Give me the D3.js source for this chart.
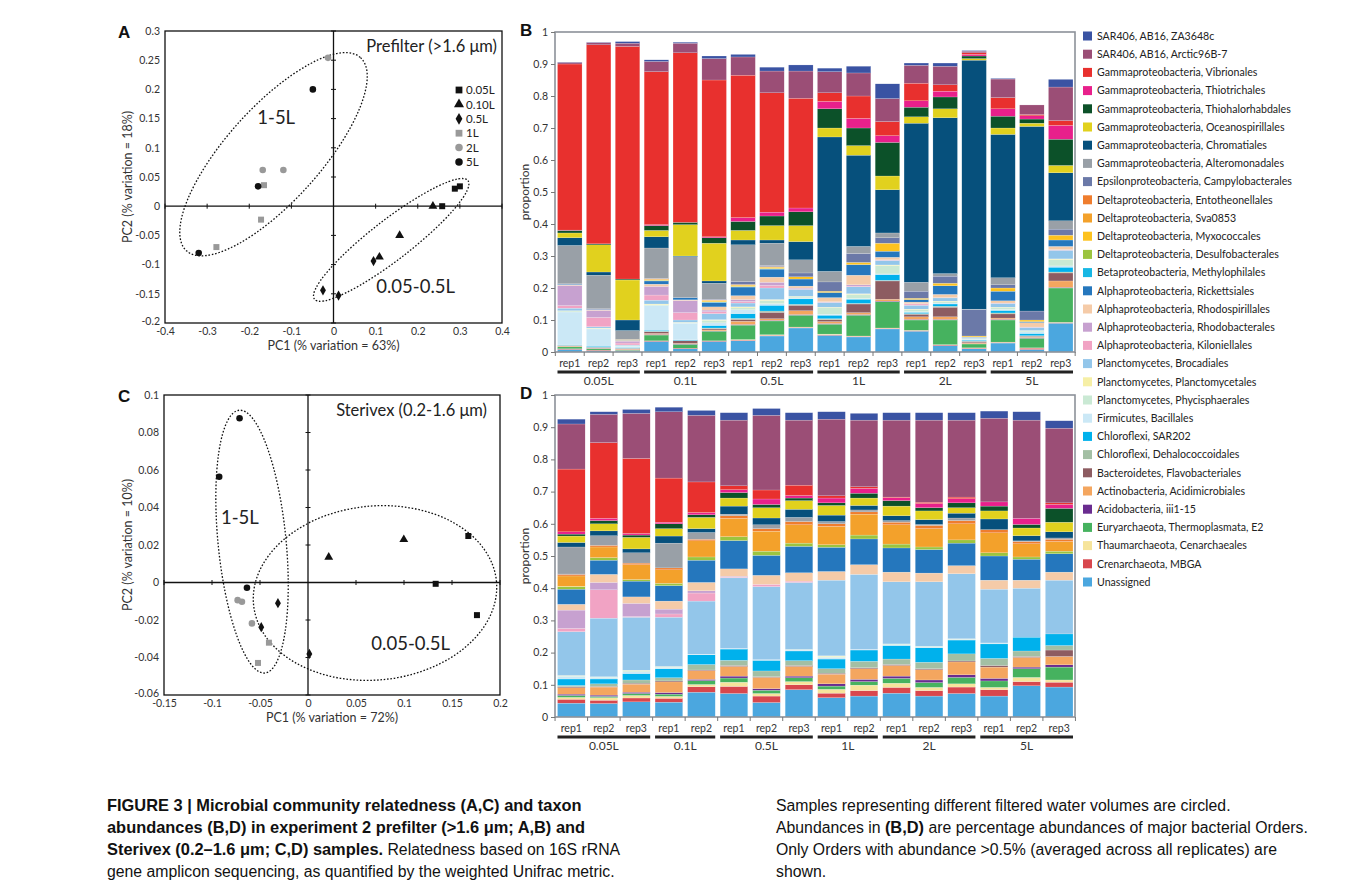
<!DOCTYPE html>
<html>
<head>
<meta charset="utf-8" />
<script src="https://d3js.org/d3.v7.min.js"></script>
<title>Figure 3</title>
<style>
  body { margin: 0; background: #fff; }
  svg text { font-family: Lato, "Open Sans", sans-serif; fill: #222; }
  svg .cap { font-family: "Liberation Sans", Arial, sans-serif; fill: #111; }
</style>
</head>
<body>
<svg id="fig" width="1357" height="889"></svg>
<script>
// ---------- data ----------
// taxa in stacking order (bottom of bar first); legend shows them reversed
var taxa = [
  "Unassigned", "Crenarchaeota, MBGA", "Thaumarchaeota, Cenarchaeales",
  "Euryarchaeota, Thermoplasmata, E2", "Acidobacteria, iii1-15",
  "Actinobacteria, Acidimicrobiales", "Bacteroidetes, Flavobacteriales",
  "Chloroflexi, Dehalococcoidales", "Chloroflexi, SAR202", "Firmicutes, Bacillales",
  "Planctomycetes, Phycisphaerales", "Planctomycetes, Planctomycetales",
  "Planctomycetes, Brocadiales", "Alphaproteobacteria, Kiloniellales",
  "Alphaproteobacteria, Rhodobacterales", "Alphaproteobacteria, Rhodospirillales",
  "Alphaproteobacteria, Rickettsiales", "Betaproteobacteria, Methylophilales",
  "Deltaproteobacteria, Desulfobacterales", "Deltaproteobacteria, Myxococcales",
  "Deltaproteobacteria, Sva0853", "Deltaproteobacteria, Entotheonellales",
  "Epsilonproteobacteria, Campylobacterales", "Gammaproteobacteria, Alteromonadales",
  "Gammaproteobacteria, Chromatiales", "Gammaproteobacteria, Oceanospirillales",
  "Gammaproteobacteria, Thiohalorhabdales", "Gammaproteobacteria, Thiotrichales",
  "Gammaproteobacteria, Vibrionales", "SAR406, AB16, Arctic96B-7", "SAR406, AB16, ZA3648c"
];
var taxaColors = [
  "#4ba7df", "#d8474d", "#f6e49b", "#46b25f", "#6a2c8f", "#f4a65f", "#8d5c61",
  "#a3bfa4", "#00b1ec", "#cbe8f6", "#cae9d4", "#f6efa6", "#93c6ea", "#f1a3c4",
  "#c7a1d0", "#f5cba8", "#2577bd", "#17b7e4", "#9cc43f", "#fdc21f", "#f3a12b",
  "#ef7d2e", "#6b79a8", "#99a0a7", "#06507c", "#e1d11e", "#0c5129", "#e8208b",
  "#e8302e", "#9b4e76", "#3a53a3"
];

var volumes = ["0.05L", "0.1L", "0.5L", "1L", "2L", "5L"];
var repsPrefilter = [3, 3, 3, 3, 3, 3];
var repsSterivex = [3, 2, 3, 2, 3, 3];

// panel B: one row per sample, values in taxa order
var prefilterShares = [
  [0.008,0.002,0,0.006,0.001,0.002,0.001,0.001,0.001,0.103,0.003,0.001,0.008,0.008,0.063,0.002,0.002,0,0,0,0,0,0.001,0.120,0.024,0.015,0.008,0.001,0.519,0.005,0.001],
  [0.004,0.002,0,0.004,0.001,0.001,0.002,0.001,0.003,0.054,0.002,0.001,0.004,0.029,0.022,0.002,0.001,0,0,0,0,0,0.002,0.105,0.010,0.085,0.003,0,0.622,0.007,0.001],
  [0.003,0.001,0,0.002,0.001,0.002,0.002,0.001,0.002,0.004,0.001,0.001,0.002,0.006,0.006,0.002,0.001,0,0,0.002,0,0,0.001,0.027,0.033,0.125,0.003,0,0.727,0.010,0.005],
  [0.033,0.002,0,0.018,0.002,0.003,0.005,0.002,0.003,0.077,0.003,0.002,0.012,0.016,0.027,0.007,0.010,0.001,0.001,0.002,0.002,0.001,0.001,0.095,0.035,0.020,0.015,0.003,0.478,0.032,0.005],
  [0.010,0.002,0,0.012,0.001,0.002,0.008,0.001,0.002,0.052,0.002,0.001,0.007,0.023,0.038,0.002,0.007,0,0,0,0,0,0,0.128,0.002,0.098,0.007,0,0.530,0.030,0.003],
  [0.033,0.002,0,0.030,0.001,0.003,0.004,0.002,0.008,0.008,0.008,0.002,0.019,0.006,0.005,0.010,0.014,0.001,0.001,0.004,0.001,0.001,0.002,0.050,0.007,0.118,0.017,0.003,0.490,0.067,0.008],
  [0.035,0.002,0.002,0.045,0.002,0.010,0.006,0.003,0.015,0.012,0.006,0.003,0.012,0.005,0.006,0.012,0.027,0.001,0.001,0.004,0.001,0.001,0.009,0.115,0.015,0.030,0.028,0.012,0.445,0.057,0.008],
  [0.050,0.002,0.002,0.043,0.002,0.005,0.020,0.004,0.018,0.005,0.010,0.003,0.036,0.008,0.010,0.016,0.025,0.001,0.001,0.004,0.001,0.001,0.003,0.070,0.010,0.045,0.030,0.012,0.373,0.068,0.012],
  [0.075,0.002,0.001,0.037,0.002,0.012,0.017,0.003,0.017,0.003,0.003,0.002,0.022,0.002,0.002,0.006,0.022,0,0,0.007,0,0,0.012,0.041,0.057,0.050,0.043,0.012,0.343,0.085,0.019],
  [0.052,0.002,0.002,0.031,0.002,0.006,0.006,0.003,0.011,0.003,0.020,0.002,0.015,0.001,0.001,0.013,0.016,0,0,0.004,0,0,0.029,0.033,0.420,0.028,0.060,0.023,0.027,0.066,0.011],
  [0.047,0.002,0.001,0.065,0.002,0.006,0.027,0.002,0.013,0.002,0.013,0.002,0.022,0.002,0.004,0.030,0.033,0,0,0.007,0,0,0.028,0.022,0.285,0.030,0.055,0.030,0.070,0.072,0.021],
  [0.072,0.002,0.001,0.082,0.002,0.006,0.057,0.002,0.018,0.002,0.026,0.002,0.014,0.001,0.001,0.008,0.019,0,0,0.025,0,0,0.017,0.015,0.135,0.043,0.105,0.021,0.044,0.072,0.046],
  [0.065,0.002,0.001,0.032,0.002,0.008,0.008,0.002,0.004,0.002,0.006,0.002,0.012,0.004,0.001,0.005,0.008,0,0,0.004,0,0,0.022,0.028,0.497,0.020,0.030,0.020,0.055,0.056,0.007],
  [0.020,0.002,0.001,0.077,0.002,0.008,0.030,0.003,0.007,0.003,0.004,0.002,0.010,0,0.001,0.010,0.027,0,0,0.008,0,0,0.022,0.008,0.487,0.028,0.037,0.018,0.020,0.058,0.010],
  [0.010,0.002,0.001,0.012,0.001,0.003,0.004,0.001,0.003,0.003,0.001,0.001,0.003,0,0,0.001,0.001,0,0,0.003,0,0,0.083,0.001,0.778,0.005,0.008,0.005,0.005,0.005,0.002],
  [0.028,0.002,0.001,0.069,0.002,0.004,0.013,0.003,0.008,0.003,0.005,0.002,0.012,0.001,0,0.007,0.030,0,0,0.010,0,0,0.010,0.022,0.448,0.020,0.037,0.023,0.035,0.058,0.002],
  [0.008,0.004,0.001,0.030,0.001,0.002,0.003,0.002,0.007,0.005,0.003,0.001,0.010,0.001,0,0.014,0.003,0,0,0.005,0,0,0.028,0,0.577,0.010,0.013,0.010,0.004,0.030,0],
  [0.090,0.002,0.001,0.107,0.002,0.020,0.025,0.003,0.015,0.004,0.020,0.002,0.027,0.001,0.001,0.010,0.020,0,0,0.015,0,0,0.019,0.026,0.150,0.023,0.082,0.043,0.015,0.105,0.024]
];

// panel D
var sterivexShares = [
  [0.043,0.012,0.006,0.006,0.004,0.020,0.003,0.004,0.020,0.008,0.002,0.001,0.136,0.010,0.057,0.018,0.047,0,0.008,0.001,0.032,0.005,0.001,0.084,0.014,0.020,0.006,0.007,0.195,0.140,0.015],
  [0.042,0.010,0.008,0.004,0.004,0.025,0.002,0.008,0.015,0.005,0.002,0,0.182,0.088,0.023,0.025,0.044,0,0.008,0,0.033,0.005,0,0.030,0.015,0.022,0.010,0.007,0.235,0.088,0.008],
  [0.047,0.012,0.008,0.006,0.004,0.025,0.003,0.010,0.020,0.005,0.003,0.002,0.165,0.002,0.041,0.020,0.049,0,0.005,0,0.046,0.005,0,0.032,0.012,0.036,0.007,0.005,0.233,0.140,0.012],
  [0.046,0.012,0.006,0.007,0.005,0.033,0.003,0.010,0.028,0.004,0.002,0.001,0.153,0.010,0.015,0.025,0.048,0,0.007,0,0.042,0.006,0,0.077,0.022,0.023,0.015,0.005,0.137,0.206,0.014],
  [0.077,0.017,0.007,0.012,0.004,0.027,0.002,0.017,0.030,0.002,0,0,0.165,0.025,0.007,0.026,0.069,0,0.010,0,0.050,0.005,0,0.021,0.012,0.035,0.008,0.007,0.095,0.207,0.015],
  [0.073,0.022,0.013,0.013,0.006,0.030,0.003,0.016,0.035,0.002,0,0,0.219,0.002,0.003,0.023,0.088,0,0.012,0,0.057,0.008,0,0.005,0.025,0.025,0.017,0.009,0.012,0.204,0.023],
  [0.045,0.020,0.008,0.010,0.005,0.035,0.002,0.018,0.033,0.002,0,0,0.227,0.007,0,0.028,0.062,0,0.013,0,0.062,0.008,0,0.012,0.021,0.032,0.010,0.017,0.028,0.232,0.021],
  [0.085,0.015,0.010,0.012,0.005,0.030,0.003,0.015,0.030,0.003,0.002,0,0.208,0.004,0,0.026,0.082,0,0.010,0,0.057,0.010,0,0.013,0.025,0.027,0.008,0.008,0.032,0.202,0.023],
  [0.060,0.014,0.012,0.010,0.007,0.030,0.003,0.014,0.030,0.005,0.003,0.002,0.235,0,0,0.027,0.075,0,0.008,0,0.057,0.008,0,0.007,0.020,0.030,0.008,0.015,0.007,0.238,0.023],
  [0.065,0.017,0.017,0.011,0.007,0.033,0.003,0.020,0.035,0.002,0,0,0.233,0,0,0.030,0.080,0,0.012,0,0.065,0.007,0,0.006,0.014,0.023,0.015,0.015,0.005,0.207,0.021],
  [0.074,0.018,0.013,0.015,0.007,0.033,0.003,0.017,0.042,0.003,0.002,0,0.193,0,0,0.030,0.075,0,0.012,0,0.060,0.008,0,0.005,0.015,0.030,0.017,0.009,0.002,0.239,0.023],
  [0.065,0.017,0.010,0.015,0.008,0.032,0.003,0.020,0.045,0.003,0.002,0,0.200,0,0,0.027,0.073,0,0.008,0,0.057,0.010,0,0.003,0.015,0.027,0.010,0.013,0.004,0.255,0.023],
  [0.073,0.020,0.010,0.020,0.008,0.040,0.003,0.022,0.043,0.002,0.002,0,0.202,0,0,0.025,0.070,0,0.010,0,0.050,0.010,0,0.008,0.015,0.017,0.015,0.013,0.005,0.239,0.023],
  [0.065,0.020,0.007,0.020,0.008,0.035,0.005,0.022,0.045,0.003,0,0,0.167,0,0,0.028,0.075,0,0.010,0,0.062,0.010,0,0,0.033,0.025,0.015,0.013,0,0.260,0.022],
  [0.097,0.013,0.013,0.027,0.005,0.030,0.003,0.017,0.043,0,0,0,0.152,0,0,0.025,0.065,0,0.007,0,0.041,0.007,0,0.002,0.016,0.024,0.011,0.019,0,0.305,0.026],
  [0.093,0.015,0.007,0.040,0.007,0.026,0.020,0.014,0.036,0,0,0,0.167,0,0,0.025,0.057,0,0.008,0,0.030,0.007,0,0.004,0.019,0.030,0.043,0.012,0.005,0.232,0.023]
];

// PCoA points, [PC1, PC2] per replicate
var legendVolumes = ["0.05L", "0.10L", "0.5L", "1L", "2L", "5L"];
var prefilterPoints = [
  [[0.288, 0.030], [0.300, 0.034], [0.258, 0.000]],
  [[0.236, 0.000], [0.157, -0.050], [0.109, -0.087]],
  [[0.095, -0.094], [-0.025, -0.144], [0.012, -0.153]],
  [[-0.165, 0.036], [-0.172, -0.023], [-0.278, -0.070]],
  [[-0.013, 0.254], [-0.168, 0.062], [-0.119, 0.062]],
  [[-0.049, 0.200], [-0.179, 0.034], [-0.320, -0.080]]
];
var sterivexPoints = [
  [[0.167, 0.0248], [0.133, -0.0007], [0.176, -0.0174]],
  [[0.0216, 0.0135], [0.0998, 0.0229]],
  [[-0.0313, -0.0110], [-0.0487, -0.0238], [0.0014, -0.0381]],
  [[-0.0407, -0.0321], [-0.0521, -0.0429]],
  [[-0.0733, -0.0094], [-0.0688, -0.0103], [-0.0584, -0.0218]],
  [[-0.0713, 0.0876], [-0.0925, 0.0564], [-0.0636, -0.0028]]
];

var ticksAx = [-0.4, -0.3, -0.2, -0.1, 0, 0.1, 0.2, 0.3, 0.4];
var ticksAy = [-0.2, -0.15, -0.1, -0.05, 0, 0.05, 0.1, 0.15, 0.2, 0.25, 0.3];
var ticksCx = [-0.15, -0.1, -0.05, 0, 0.05, 0.1, 0.15, 0.2];
var ticksCy = [-0.06, -0.04, -0.02, 0, 0.02, 0.04, 0.06, 0.08, 0.1];
var ticksBar = [0, 0.1, 0.2, 0.3, 0.4, 0.5, 0.6, 0.7, 0.8, 0.9, 1];

// ---------- drawing ----------
var svg = d3.select("#fig");
var fmt = function(d) { return String(Math.round(d * 1000) / 1000); };

var symbolTypes = [d3.symbolSquare, d3.symbolTriangle, d3.symbolDiamond, d3.symbolSquare, d3.symbolCircle, d3.symbolCircle];
var symbolSizes = [36, 34, 30, 36, 34, 34];
var symbolFills = ["#111", "#111", "#111", "#999", "#999", "#111"];

function scatter(cfg) {
  var x = d3.scaleLinear().domain(cfg.xDomain).range(cfg.xRange);
  var y = d3.scaleLinear().domain(cfg.yDomain).range(cfg.yRange);
  var g = svg.append("g");

  g.append("rect")
    .attr("x", cfg.xRange[0]).attr("y", cfg.yRange[1])
    .attr("width", cfg.xRange[1] - cfg.xRange[0])
    .attr("height", cfg.yRange[0] - cfg.yRange[1])
    .attr("fill", "none").attr("stroke", "#111").attr("stroke-width", 1.3);
  g.append("line").attr("x1", x(0)).attr("x2", x(0))
    .attr("y1", cfg.yRange[0]).attr("y2", cfg.yRange[1]).attr("stroke", "#111").attr("stroke-width", 1.3);
  g.append("line").attr("x1", cfg.xRange[0]).attr("x2", cfg.xRange[1])
    .attr("y1", y(0)).attr("y2", y(0)).attr("stroke", "#111").attr("stroke-width", 1.3);

  // little ticks on the zero lines
  g.selectAll(".zy").data(cfg.yTicks.filter(function(t) { return t !== 0; })).join("line")
    .attr("x1", x(0) - 2.5).attr("x2", x(0) + 2.5)
    .attr("y1", function(d) { return y(d); }).attr("y2", function(d) { return y(d); })
    .attr("stroke", "#111");
  g.selectAll(".zx").data(cfg.xTicks.filter(function(t) { return t !== 0; })).join("line")
    .attr("y1", y(0) - 2.5).attr("y2", y(0) + 2.5)
    .attr("x1", function(d) { return x(d); }).attr("x2", function(d) { return x(d); })
    .attr("stroke", "#111");

  // tick labels on the frame
  var ax = g.append("g").attr("transform", "translate(0," + cfg.yRange[0] + ")")
    .call(d3.axisBottom(x).tickValues(cfg.xTicks).tickSize(0).tickPadding(5).tickFormat(fmt));
  var ay = g.append("g").attr("transform", "translate(" + cfg.xRange[0] + ",0)")
    .call(d3.axisLeft(y).tickValues(cfg.yTicks).tickSize(0).tickPadding(5).tickFormat(fmt));
  [ax, ay].forEach(function(a) {
    a.select(".domain").remove();
    a.attr("font-family", null).attr("font-size", null);
    a.selectAll("text").attr("font-size", 10.5).style("fill", "#333");
  });
  // lowest y label sits a little higher so it clears the first x label
  ay.selectAll("text").filter(function(d) { return d === cfg.yDomain[0]; }).attr("dy", "0.1em");

  g.append("text").attr("x", (cfg.xRange[0] + cfg.xRange[1]) / 2).attr("y", cfg.yRange[0] + 27)
    .attr("text-anchor", "middle").attr("font-size", 12.5).style("fill", "#333").text(cfg.xTitle);
  g.append("text").attr("transform", "translate(132," + (cfg.yRange[0] + cfg.yRange[1]) / 2 + ") rotate(-90)")
    .attr("text-anchor", "middle").attr("font-size", 12.5).style("fill", "#333").text(cfg.yTitle);

  // ellipses
  cfg.ellipses.forEach(function(e) {
    g.append("ellipse").attr("rx", e.a).attr("ry", e.b)
      .attr("transform", "translate(" + x(e.cx) + "," + y(e.cy) + ") rotate(" + e.angle + ")")
      .attr("fill", "none").attr("stroke", "#111").attr("stroke-width", 1.3)
      .attr("stroke-dasharray", "1.6,1.8");
    g.append("text").attr("x", x(e.lx)).attr("y", y(e.ly)).attr("font-size", 18.5)
      .attr("text-anchor", "middle").attr("dy", "0.35em").style("fill", "#222").text(e.label);
  });

  // points
  cfg.points.forEach(function(set, i) {
    g.selectAll(null).data(set).join("path")
      .attr("d", d3.symbol().type(symbolTypes[i]).size(symbolSizes[i]))
      .attr("transform", function(d) { return "translate(" + x(d[0]) + "," + y(d[1]) + ")"; })
      .attr("fill", symbolFills[i]);
  });

  g.append("text").attr("x", cfg.xRange[1] - cfg.titleInset).attr("y", cfg.yRange[1] + 21)
    .attr("text-anchor", "end").attr("font-size", 16.5).style("fill", "#222").text(cfg.title);
  g.append("text").attr("x", 118).attr("y", cfg.yRange[1] + 7)
    .attr("font-weight", "bold").attr("font-size", 17)
    .style("font-family", "Liberation Sans, Arial, sans-serif").style("fill", "#111")
    .text(cfg.panel);

  if (cfg.legend) {
    var ly = d3.scaleLinear().domain([0, 5]).range([90, 162]);
    legendVolumes.forEach(function(v, i) {
      g.append("path").attr("d", d3.symbol().type(symbolTypes[i]).size(symbolSizes[i] + 10)())
        .attr("transform", "translate(459," + ly(i) + ")").attr("fill", symbolFills[i]);
      g.append("text").attr("x", 466).attr("y", ly(i)).attr("dy", "0.36em")
        .attr("font-size", 11.5).style("fill", "#222").text(v);
    });
  }
}

scatter({
  panel: "A", title: "Prefilter (>1.6 \u03bcm)", titleInset: 5,
  xDomain: [-0.4, 0.4], xRange: [165, 502], yDomain: [-0.2, 0.3], yRange: [323, 31],
  xTicks: ticksAx, yTicks: ticksAy,
  xTitle: "PC1 (% variation = 63%)", yTitle: "PC2 (% variation = 18%)",
  points: prefilterPoints, legend: true,
  ellipses: [
    { cx: -0.1424, cy: 0.089, a: 130, b: 47, angle: -48, label: "1-5L", lx: -0.136, ly: 0.152 },
    { cx: 0.137, cy: -0.0577, a: 97, b: 20, angle: -37.7, label: "0.05-0.5L", lx: 0.195, ly: -0.137 }
  ]
});

scatter({
  panel: "C", title: "Sterivex (0.2-1.6 \u03bcm)", titleInset: 13,
  xDomain: [-0.15, 0.2], xRange: [164, 500], yDomain: [-0.06, 0.1], yRange: [695, 395],
  xTicks: ticksCx, yTicks: ticksCy,
  xTitle: "PC1 (% variation = 72%)", yTitle: "PC2 (% variation = 10%)",
  points: sterivexPoints, legend: false,
  ellipses: [
    { cx: -0.0583, cy: 0.0218, a: 132, b: 34, angle: 84.4, label: "1-5L", lx: -0.071, ly: 0.0348 },
    { cx: 0.0698, cy: -0.0056, a: 122, b: 87, angle: -5.5, label: "0.05-0.5L", lx: 0.107, ly: -0.0323 }
  ]
});

var barLeft = 555, barRight = 1075;

function stackedBars(cfg) {
  var samples = [], sampleVol = [];
  volumes.forEach(function(v, i) {
    for (var r = 1; r <= cfg.reps[i]; r++) { samples.push(v + "|rep" + r); sampleVol.push(v); }
  });
  var rows = cfg.shares.map(function(vals, i) {
    var row = { sample: samples[i] };
    taxa.forEach(function(t, k) { row[t] = vals[k]; });
    return row;
  });
  var x = d3.scaleBand().domain(samples).range([barLeft + 2.5, barRight - 2]).paddingInner(0.15).paddingOuter(0);
  var y = d3.scaleLinear().domain([0, 1]).range(cfg.yRange);
  var color = d3.scaleOrdinal().domain(taxa).range(taxaColors);
  var series = d3.stack().keys(taxa)(rows);
  var g = svg.append("g");

  g.selectAll(".layer").data(series).join("g").attr("fill", function(s) { return color(s.key); })
    .selectAll("rect").data(function(s) { return s; }).join("rect")
      .attr("x", function(d) { return x(d.data.sample); })
      .attr("width", x.bandwidth())
      .attr("y", function(d) { return y(d[1]); })
      .attr("height", function(d) { return Math.max(0, y(d[0]) - y(d[1])); })
      .attr("stroke", "#fff").attr("stroke-width", 0.3).attr("stroke-opacity", 0.6);

  g.append("rect").attr("x", barLeft).attr("y", cfg.yRange[1])
    .attr("width", barRight - barLeft).attr("height", cfg.yRange[0] - cfg.yRange[1])
    .attr("fill", "none").attr("stroke", "#8c9199").attr("stroke-width", 1.6);

  var ay = g.append("g").attr("transform", "translate(" + barLeft + ",0)")
    .call(d3.axisLeft(y).tickValues(ticksBar).tickSize(4).tickPadding(3).tickFormat(fmt));
  ay.select(".domain").remove();
  ay.attr("font-family", null).attr("font-size", null);
  ay.selectAll("line").attr("stroke", "#777");
  ay.selectAll("text").attr("font-size", 10.5).style("fill", "#333");

  g.append("text").attr("transform", "translate(529," + (cfg.yRange[0] + cfg.yRange[1]) / 2 + ") rotate(-90)")
    .attr("text-anchor", "middle").attr("font-size", 12).style("fill", "#333").text("proportion");

  // small ticks between bars
  var step = x.step(), gap = step - x.bandwidth();
  var edges = samples.map(function(s) { return x(s) - gap / 2; })
    .concat([x(samples[samples.length - 1]) + x.bandwidth() + gap / 2]);
  g.selectAll(".xt").data(edges).join("line")
    .attr("x1", function(d) { return d; }).attr("x2", function(d) { return d; })
    .attr("y1", cfg.yRange[0]).attr("y2", cfg.yRange[0] + 4).attr("stroke", "#777");

  g.selectAll(".rep").data(samples).join("text")
    .attr("x", function(s) { return x(s) + x.bandwidth() / 2; })
    .attr("y", cfg.yRange[0] + 15).attr("text-anchor", "middle").attr("font-size", 10.5)
    .style("fill", "#333").text(function(s) { return s.split("|")[1]; });

  volumes.forEach(function(v) {
    var own = samples.filter(function(s, i) { return sampleVol[i] === v; });
    var x0 = x(own[0]), x1 = x(own[own.length - 1]) + x.bandwidth();
    g.append("line").attr("x1", x0).attr("x2", x1)
      .attr("y1", cfg.yRange[0] + 20).attr("y2", cfg.yRange[0] + 20)
      .attr("stroke", "#222").attr("stroke-width", 3);
    g.append("text").attr("x", (x0 + x1) / 2).attr("y", cfg.yRange[0] + 33)
      .attr("text-anchor", "middle").attr("font-size", 12).style("fill", "#333").text(v);
  });

  g.append("text").attr("x", 520).attr("y", cfg.yRange[1] + 4)
    .attr("font-weight", "bold").attr("font-size", 17)
    .style("font-family", "Liberation Sans, Arial, sans-serif").style("fill", "#111").text(cfg.panel);
}

stackedBars({ panel: "B", reps: repsPrefilter, shares: prefilterShares, yRange: [352, 32] });
stackedBars({ panel: "D", reps: repsSterivex, shares: sterivexShares, yRange: [717, 395] });

// taxon legend (top of bar first)
var legendTaxa = taxa.slice().reverse();
var legendColors = taxaColors.slice().reverse();
var lyTax = d3.scaleLinear().domain([0, legendTaxa.length - 1]).range([36, 582]);
var lg = svg.append("g");
lg.selectAll("rect").data(legendTaxa).join("rect")
  .attr("x", 1083).attr("y", function(d, i) { return lyTax(i) - 4.5; })
  .attr("width", 9).attr("height", 9)
  .attr("fill", function(d, i) { return legendColors[i]; });
lg.selectAll("text").data(legendTaxa).join("text")
  .attr("x", 1097).attr("y", function(d, i) { return lyTax(i); }).attr("dy", "0.35em")
  .attr("font-size", 10.6).style("fill", "#222").text(function(d) { return d; });

// caption
var captionLeft = [
  [["FIGURE 3 | Microbial community relatedness (A,C) and taxon", true]],
  [["abundances (B,D) in experiment 2 prefilter (>1.6 \u03bcm; A,B) and", true]],
  [["Sterivex (0.2\u20131.6 \u03bcm; C,D) samples.", true], [" Relatedness based on 16S rRNA", false]],
  [["gene amplicon sequencing, as quantified by the weighted Unifrac metric.", false]]
];
var captionRight = [
  [["Samples representing different filtered water volumes are circled.", false]],
  [["Abundances in ", false], ["(B,D)", true], [" are percentage abundances of major bacterial Orders.", false]],
  [["Only Orders with abundance >0.5% (averaged across all replicates) are", false]],
  [["shown.", false]]
];
function caption(lines, x0) {
  lines.forEach(function(parts, i) {
    var t = svg.append("text").attr("class", "cap").attr("x", x0).attr("y", 811 + i * 22);
    parts.forEach(function(p) {
      t.append("tspan").attr("font-weight", p[1] ? "bold" : "normal")
        .attr("font-size", p[1] ? 16.4 : 15.8).text(p[0]);
    });
  });
}
caption(captionLeft, 107);
caption(captionRight, 776);
</script>
</body>
</html>
